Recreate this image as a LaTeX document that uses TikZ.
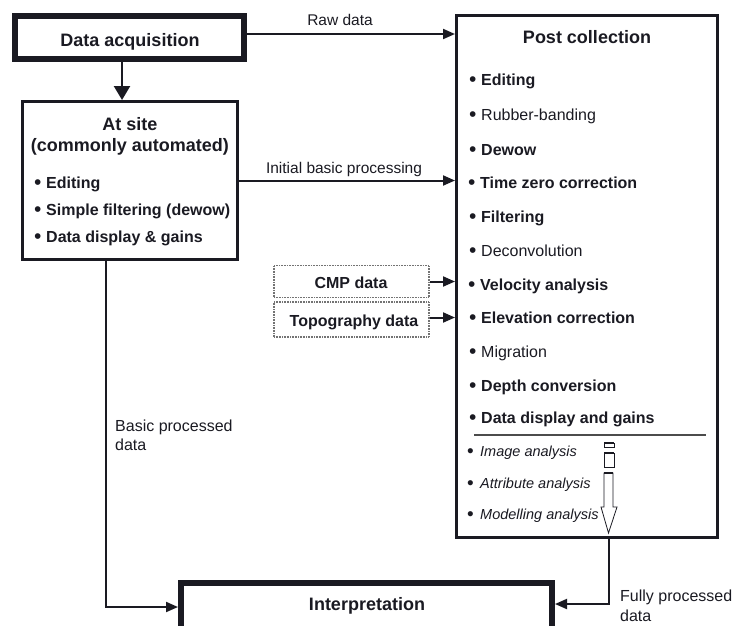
\documentclass[tikz,border=0pt]{standalone}
\usepackage{fontspec}
\setmainfont{Liberation Sans}
\usetikzlibrary{arrows.meta}
\definecolor{ink}{HTML}{1A1A22}
\tikzset{
  big/.style={font=\fontsize{18}{21}\selectfont\bfseries},
  itm/.style={font=\fontsize{16}{19}\selectfont, inner sep=0pt, anchor=base west, text=ink},
  itmb/.style={itm, font=\fontsize{16}{19}\selectfont\bfseries},
  itmi/.style={itm, font=\fontsize{14.5}{17}\selectfont\itshape},
  lbl/.style={font=\fontsize{15.5}{18}\selectfont, inner sep=0pt, anchor=base, text=ink},
  heavybox/.style={draw=ink, line width=6pt, minimum width=#1, inner sep=0pt},
  midbox/.style={draw=ink, line width=3pt, inner sep=0pt},
  dotbox/.style={draw=black!55, line width=1.3pt, dash pattern=on 1pt off 0.6pt, inner sep=0pt},
  arr/.style={draw=ink, line width=2pt, -{Triangle[length=12pt,width=10pt]}},
  bigarr/.style={draw=ink, line width=2.5pt, -{Triangle[length=14pt,width=16pt]}},
}
\newcommand{\bul}{\makebox[12pt][l]{\raisebox{-1.6pt}{\fontsize{21}{21}\selectfont\mdseries\upshape •}}}
\newcommand{\ibul}{\makebox[13pt][l]{\raisebox{-1.4pt}{\fontsize{19}{19}\selectfont\mdseries\upshape •}}}
\begin{document}
\begin{tikzpicture}[x=1pt,y=-1pt]
\useasboundingbox (0,0) rectangle (734,625);
% boxes
\node[heavybox=229pt, minimum height=43pt] (acq) at (129.5,37.5) {};
\node[midbox, minimum width=215pt, minimum height=158pt] (site) at (130,180.5) {};
\node[midbox, minimum width=261pt, minimum height=522pt] (post) at (587,276.5) {};
\node[heavybox=371pt, minimum height=50pt] (interp) at (366.5,608) {};
\node[dotbox, minimum width=155pt, minimum height=32pt] (cmp) at (351.5,281.5) {};
\node[dotbox, minimum width=155pt, minimum height=35pt] (topo) at (351.5,319.5) {};
% box texts
\node[big, inner sep=0pt, anchor=base, text=ink] (acqt) at (130,46) {Data acquisition};
\node[big, inner sep=0pt, anchor=base, text=ink] (sitet1) at (130,130) {At site};
\node[big, inner sep=0pt, anchor=base, text=ink] (sitet2) at (130,151) {(commonly automated)};
\node[itmb] (s1) at (34,188) {\bul Editing};
\node[itmb] (s2) at (34,215) {\bul Simple filtering (dewow)};
\node[itmb] (s3) at (34,242) {\bul Data display \& gains};
\node[big, inner sep=0pt, anchor=base, text=ink] (postt) at (587,43) {Post collection};
\node[itmb] (p1) at (469,85) {\bul Editing};
\node[itm]  (p2) at (469,120) {\bul Rubber-banding};
\node[itmb] (p3) at (469,155) {\bul Dewow};
\node[itmb] (p4) at (468,188) {\bul Time zero correction};
\node[itmb] (p5) at (469,222) {\bul Filtering};
\node[itm]  (p6) at (469,256) {\bul Deconvolution};
\node[itmb] (p7) at (468,290) {\bul Velocity analysis};
\node[itmb] (p8) at (469,323) {\bul Elevation correction};
\node[itm]  (p9) at (469,357) {\bul Migration};
\node[itmb] (p10) at (469,391) {\bul Depth conversion};
\node[itmb] (p11) at (469,423) {\bul Data display and gains};
\draw[draw=black!70, line width=1.5pt] (474,435) -- (706,435);
\node[itmi] (q1) at (467,456) {\ibul Image analysis};
\node[itmi] (q2) at (467,488) {\ibul Attribute analysis};
\node[itmi] (q3) at (467,519) {\ibul Modelling analysis};
% hollow arrow
\draw[draw=ink, line width=0.8pt, fill=white] (604,443) rectangle (614,447);
\draw[draw=ink, line width=1.6pt] (604,443) -- (614,443);
\draw[draw=ink, line width=0.8pt, fill=white] (604,453) rectangle (614,467);
\draw[draw=ink, line width=1.6pt] (604,453) -- (614,453);
\draw[draw=ink, line width=0.8pt, fill=white, line join=miter]
  (604,473) -- (613,473) -- (613,507) -- (617,507) -- (608.5,533) -- (601,507) -- (604,507) -- cycle;
\draw[draw=ink, line width=1.6pt] (604,473) -- (613,473);
\node[big, inner sep=0pt, anchor=base, text=ink] (interpt) at (367,610) {Interpretation};
\node[lbl, font=\fontsize{16}{19}\selectfont\bfseries] (cmpt) at (351,288) {CMP data};
\node[lbl, font=\fontsize{16}{19}\selectfont\bfseries] (topot) at (354,326) {Topography data};
% connectors
\draw[bigarr] ([xshift=-7.5pt]acq.south) -- ([xshift=-8pt]site.north);
\draw[arr] ([yshift=3.5pt]acq.east) -- ([yshift=3.5pt]acq.east -| post.west);
\node[lbl] (rawl) at (340,25) {Raw data};
\draw[arr] (site.east) -- (site.east -| post.west);
\node[lbl] (ibpl) at (344,173) {Initial basic processing};
\draw[arr] (cmp.east) -- (cmp.east -| post.west);
\draw[arr] ([yshift=2pt]topo.east) -- ([yshift=2pt]topo.east -| post.west);
\draw[arr] ([xshift=-24pt]site.south) |- ([yshift=1pt]interp.west);
\draw[arr] ([xshift=22pt]post.south) |- ([yshift=4pt]interp.east);
\node[itm] (bpl1) at (115,431) {Basic processed};
\node[itm] (bpl2) at (115,450) {data};
\node[itm] (fpl1) at (620,601) {Fully processed};
\node[itm] (fpl2) at (620,621) {data};
\end{tikzpicture}
\end{document}
